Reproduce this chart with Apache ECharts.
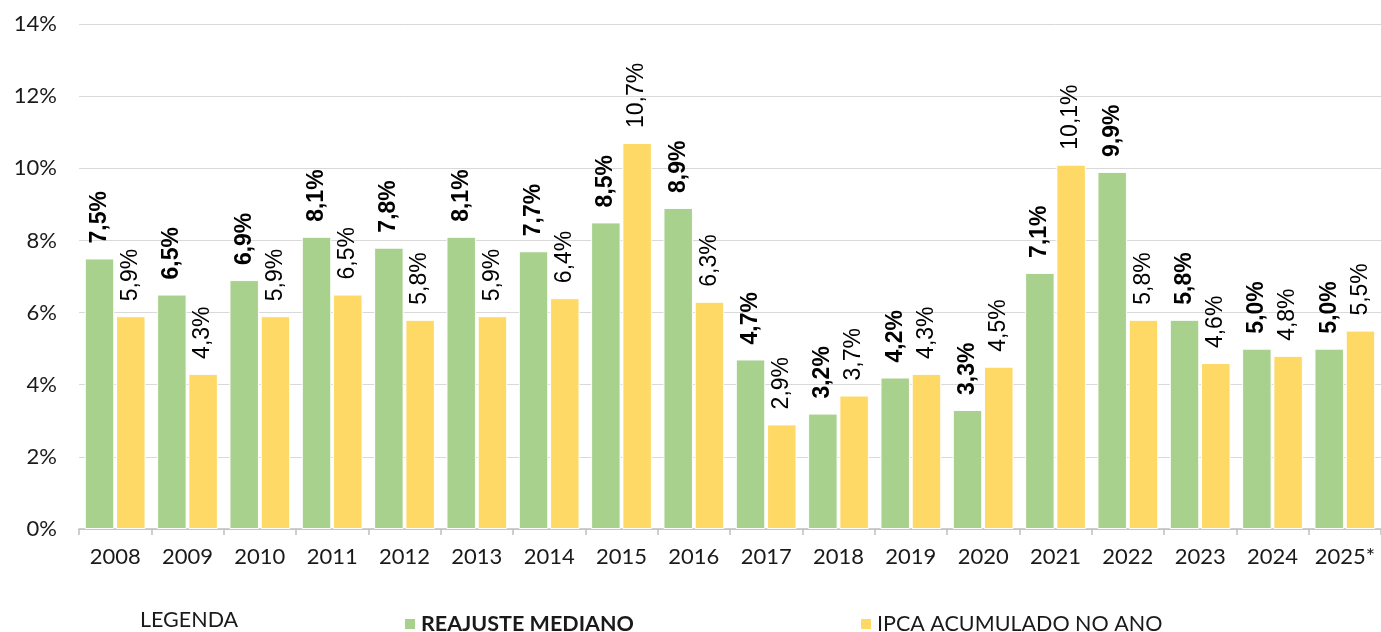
<!DOCTYPE html>
<html>
<head>
<meta charset="utf-8">
<script src="https://cdn.jsdelivr.net/npm/echarts@6/dist/echarts.min.js"></script>
<style>
  html, body { margin: 0; padding: 0; background: #fff; }
  #chart { width: 1381px; height: 632px; }
</style>
</head>
<body>
<div id="chart"></div>
<script>
// dados do gráfico
var anos = ['2008', '2009', '2010', '2011', '2012', '2013', '2014', '2015', '2016',
            '2017', '2018', '2019', '2020', '2021', '2022', '2023', '2024', '2025*'];
var reajusteMediano = [7.5, 6.5, 6.9, 8.1, 7.8, 8.1, 7.7, 8.5, 8.9, 4.7, 3.2, 4.2, 3.3, 7.1, 9.9, 5.8, 5.0, 5.0];
var ipcaAcumulado = [5.9, 4.3, 5.9, 6.5, 5.8, 5.9, 6.4, 10.7, 6.3, 2.9, 3.7, 4.3, 4.5, 10.1, 5.8, 4.6, 4.8, 5.5];
var nomeSerie1 = 'REAJUSTE MEDIANO';
var nomeSerie2 = 'IPCA ACUMULADO NO ANO';

var fonteEixo = 'Lato, "Noto Sans", sans-serif';
var fonteRotulo = '"Liberation Sans", Arial, sans-serif';

function formataPct(v) {
    return v.toFixed(1).replace('.', ',') + '%';
}

var myChart = echarts.init(document.getElementById('chart'));

var option = {
    animation: false,
    color: ['#a9d18e', '#ffd966'],
    grid: {
        left: 79,
        right: -6,
        top: 24,
        bottom: 103
    },
    legend: [
        {
            data: [nomeSerie1],
            left: 398,
            top: 608,
            icon: 'rect',
            itemWidth: 12,
            itemHeight: 12,
            itemGap: 0,
            textStyle: { fontFamily: fonteEixo, fontSize: 21.5, fontWeight: 'bold', color: '#1a1a1a' }
        },
        {
            data: [nomeSerie2],
            left: 854,
            top: 608,
            icon: 'rect',
            itemWidth: 12,
            itemHeight: 12,
            itemGap: 0,
            textStyle: { fontFamily: fonteEixo, fontSize: 21.5, color: '#1a1a1a' }
        }
    ],
    graphic: [
        {
            type: 'text',
            left: 140,
            top: 609,
            style: { text: 'LEGENDA', font: '21.5px ' + fonteEixo, fill: '#1a1a1a' }
        }
    ],
    xAxis: {
        type: 'category',
        data: anos,
        axisLine: { lineStyle: { color: '#bfbfbf', width: 1.5 } },
        axisTick: { show: true, interval: 0, length: 6, lineStyle: { color: '#bfbfbf', width: 1.5 } },
        axisLabel: { interval: 0, margin: 17, fontFamily: fonteEixo, fontSize: 22, color: '#1a1a1a' }
    },
    yAxis: {
        type: 'value',
        min: 0,
        max: 14,
        interval: 2,
        axisLabel: {
            formatter: '{value}%',
            margin: 22,
            fontFamily: fonteEixo,
            fontSize: 22,
            color: '#1a1a1a'
        },
        splitLine: { lineStyle: { color: '#d9d9d9', width: 1 } }
    },
    series: [
        {
            name: nomeSerie1,
            type: 'bar',
            data: reajusteMediano,
            barGap: '6%',
            barCategoryGap: '16%',
            itemStyle: { borderColor: '#ffffff', borderWidth: 1 },
            label: {
                show: true,
                position: 'top',
                rotate: 90,
                align: 'left',
                verticalAlign: 'middle',
                distance: 15,
                fontFamily: fonteRotulo,
                fontSize: 23,
                fontWeight: 'bold',
                color: '#000',
                formatter: function (p) { return formataPct(p.value); }
            }
        },
        {
            name: nomeSerie2,
            type: 'bar',
            data: ipcaAcumulado,
            itemStyle: { borderColor: '#ffffff', borderWidth: 1 },
            label: {
                show: true,
                position: 'top',
                rotate: 90,
                align: 'left',
                verticalAlign: 'middle',
                distance: 15,
                fontFamily: fonteRotulo,
                fontSize: 23,
                color: '#000',
                formatter: function (p) { return formataPct(p.value); }
            }
        }
    ]
};

myChart.setOption(option);
</script>
</body>
</html>
